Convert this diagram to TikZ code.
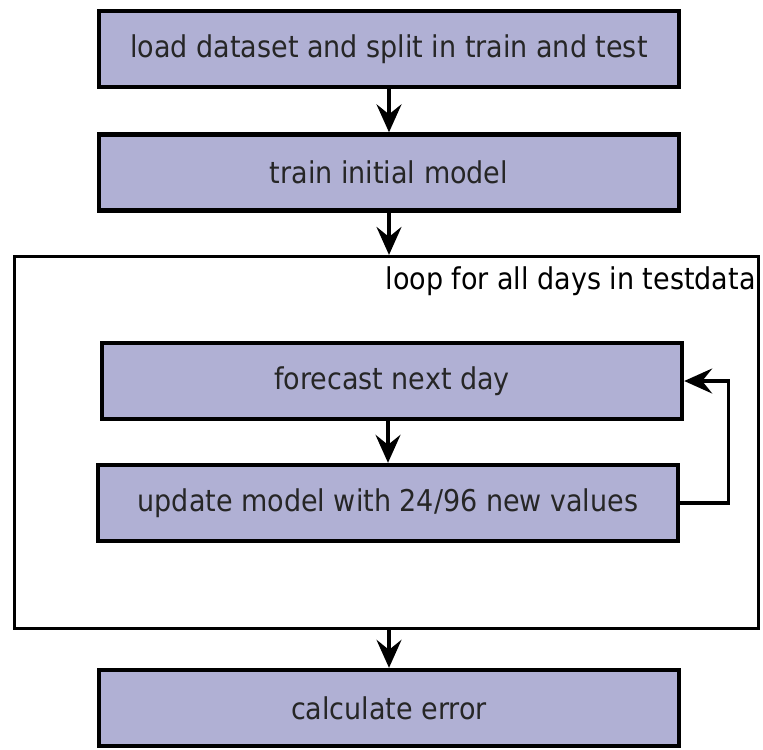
\documentclass[tikz,border=0pt]{standalone}
\usepackage{fontspec}
\setmainfont{DejaVu Sans Condensed}
\usepackage{tikz}
\usetikzlibrary{arrows.meta}
\definecolor{stepfill}{RGB}{176,176,212}

\begin{document}
\begin{tikzpicture}[
    font=\fontsize{15}{17}\selectfont,
      >={Stealth[length=14pt,width=12.5pt,inset=5pt]},
      x=0.5pt, y=-0.5pt,
      stepbox/.style={rectangle, draw=black, line width=2.2pt, fill=stepfill, align=center, text=black!85, minimum width=290pt, minimum height=38pt, inner sep=0pt},
      loopbox/.style={rectangle, draw=black, line width=1.6pt, minimum width=372pt, minimum height=186pt, inner sep=0pt},
      arrow/.style={->, line width=1.6pt, draw=black}
    ]
      \useasboundingbox (0,0) rectangle (763,749);

      \node[stepbox] (load) at (389,49) {load dataset and split in train and test};
      \node[stepbox] (train) at (389,172.5) {train initial model};
      \node[loopbox] (loop) at (386.5,442.5) {};
      \node[anchor=base east, inner sep=0pt] (looplabel) at (756,289) {loop for all days in testdata};
      \node[stepbox] (forecast) at (392,381) {forecast next day};
      \node[stepbox] (update) at (388,503) {update model with 24/96 new values};
      \node[stepbox] (error) at (389,708) {calculate error};

      \draw[arrow] (load) -- (train);
      \draw[arrow] (train.south) -- (train.south |- loop.north);
      \draw[arrow] (forecast.south -| update.north) -- (update.north);
      \draw[arrow] (update.east) -- ++(48,0) |- (forecast.east);
      \draw[arrow] (loop.south -| error.north) -- (error.north);
    \end{tikzpicture}
\end{document}
